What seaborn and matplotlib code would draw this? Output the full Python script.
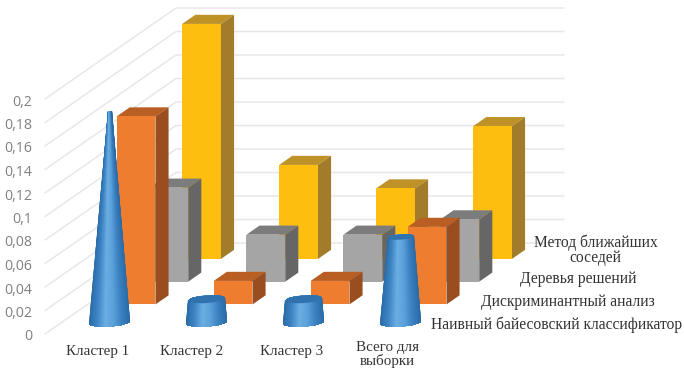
import numpy as np
import pandas as pd
import matplotlib
matplotlib.use("Agg")
import matplotlib.pyplot as plt
from matplotlib.colors import LinearSegmentedColormap
from matplotlib.path import Path
from matplotlib.transforms import ScaledTranslation
import seaborn as sns

# Values
categories = ["Кластер 1", "Кластер 2", "Кластер 3", "Всего для\nвыборки"]
series_names = ["Наивный байесовский классификатор", "Дискриминантный анализ",
                "Деревья решений", "Метод ближайших\nсоседей"]
naive_bayes = [0.18, 0.02, 0.02, 0.073]
discriminant = [0.16, 0.02, 0.02, 0.066]
decision_trees = [0.08, 0.04, 0.04, 0.053]
nearest_neighbours = [0.2, 0.08, 0.06, 0.113]
value_ticks = [0, 0.02, 0.04, 0.06, 0.08, 0.1, 0.12, 0.14, 0.16, 0.18, 0.2]

table = pd.DataFrame(
    {series_names[0]: naive_bayes, series_names[1]: discriminant,
     series_names[2]: decision_trees, series_names[3]: nearest_neighbours},
    index=categories)

sns.set_theme(style="white")

W, H = 684, 369
fig = plt.figure(figsize=(W / 100, H / 100), dpi=100)
# The axes span the front plane of the 3D box: x in categories, y in value units.
ax = fig.add_axes([45 / W, (H - 334) / H, 388 / W, 235 / H])
ax.patch.set_alpha(0)

# Oblique projection: going from front (d=0) to back (d=1) shifts the point
# right and up by a fixed amount of axis units.
SHEAR_X = 131 / 97
SHEAR_Y = 91 / 1175
BAR_WIDTH = 0.4
BAR_DEPTH = 0.1
MAX_VALUE = 0.2


def project(x, d, v):
    return x + SHEAR_X * d, v + SHEAR_Y * d


def draw_box(cat, series, value, colors, z):
    front, top, side = colors
    x0, x1 = cat + 0.5 - BAR_WIDTH / 2, cat + 0.5 + BAR_WIDTH / 2
    d0 = (series + 0.5) / 4 - BAR_DEPTH / 2
    d1 = d0 + BAR_DEPTH
    faces = [
        ([(x0, d0, value), (x1, d0, value), (x1, d1, value), (x0, d1, value)], top),
        ([(x1, d0, 0), (x1, d1, 0), (x1, d1, value), (x1, d0, value)], side),
        ([(x0, d0, 0), (x1, d0, 0), (x1, d0, value), (x0, d0, value)], front),
    ]
    for face, color in faces:
        xs, ys = zip(*[project(*p) for p in face])
        ax.fill(xs, ys, color=color, lw=0, clip_on=False, zorder=z)


def convex_hull(points):
    pts = sorted(set(map(tuple, points)))

    def half(seq):
        out = []
        for p in seq:
            while len(out) > 1 and ((out[-1][0] - out[-2][0]) * (p[1] - out[-2][1])
                                    - (out[-1][1] - out[-2][1]) * (p[0] - out[-2][0])) <= 0:
                out.pop()
            out.append(p)
        return out[:-1]

    return half(pts) + half(pts[::-1])


cone_cmap = LinearSegmentedColormap.from_list(
    "cone", ["#2a6ba6", "#3f86c6", "#6cafe4", "#5aa0da", "#3a80c0", "#2a6ba6"])


def ellipse(cat, series, height):
    t = np.linspace(0, 2 * np.pi, 90, endpoint=False)
    scale = 1 - height / MAX_VALUE
    d = (series + 0.5) / 4 + BAR_DEPTH / 2 * scale * np.sin(t)
    x = cat + 0.5 + BAR_WIDTH / 2 * scale * np.cos(t)
    return project(x, d, height)


def draw_cone(cat, series, value, top_color, z):
    bx, by = ellipse(cat, series, 0)
    tx, ty = ellipse(cat, series, value)
    hull = convex_hull(np.column_stack([np.r_[bx, tx], np.r_[by, ty]]))
    cx, cy = project(cat + 0.5, (series + 0.5) / 4, 0)
    half_width = np.hypot(BAR_WIDTH / 2, BAR_DEPTH / 2 * SHEAR_X)
    heights = np.linspace(-0.012, value + 0.008, 30)
    across = np.linspace(-1, 1, 41)
    hh, uu = np.meshgrid(heights, across, indexing="ij")
    scale = 1 - np.clip(hh, 0, value) / MAX_VALUE
    mesh = ax.pcolormesh(cx + half_width * scale * uu * 1.03, cy + hh, uu,
                         shading="gouraud", cmap=cone_cmap, zorder=z)
    mesh.set_clip_path(Path(hull + [hull[0]]), ax.transData)
    # The cap of a nearly pointed cone is too small to show its own shade
    if 1 - value / MAX_VALUE > 0.2:
        ax.fill(tx, ty, color=top_color, lw=0, clip_on=False, zorder=z + 0.5)


# Back wall and side wall gridlines
for v in value_ticks:
    xs, ys = zip(project(0, 0, v), project(0, 1, v), project(4, 1, v))
    ax.plot(xs, ys, color="#e8e8e8", lw=1.1, clip_on=False, zorder=0)

box_colors = {
    3: ("#fdbe10", "#bf9228", "#a27c2a"),
    2: ("#a5a5a5", "#7c7c7c", "#666666"),
    1: ("#ee7d30", "#b95f24", "#9a4e20"),
}

# Painter's order: back series first, left to right inside a series
z = 1
for s in (3, 2, 1):
    for c, val in enumerate(table[series_names[s]]):
        draw_box(c, s, val, box_colors[s], z)
        z += 1
for c, val in enumerate(table[series_names[0]]):
    draw_cone(c, 0, val, "#2f72ad", z)
    z += 1

# Axes and their labels
ax.set_xlim(0, 4)
ax.set_ylim(0, MAX_VALUE)
sns.despine(ax=ax, left=True, bottom=True)
ax.set_yticks(value_ticks, [f"{v:g}".replace(".", ",") for v in value_ticks],
              family="Open Sans", fontsize=10.2, color="#808080")
ax.tick_params(axis="y", length=0, pad=9.2)
for label in ax.get_yticklabels():
    label.set_transform(label.get_transform()
                        + ScaledTranslation(0, -1 / 100, fig.dpi_scale_trans))
ax.set_xticks(np.arange(4) + 0.5, categories, family="Liberation Serif",
              fontsize=10.8, color="#333333", linespacing=1.0)
ax.tick_params(axis="x", length=0, pad=8)
label_nudges = [(4, 0), (1, 0), (4, 0), (3, 4)]
for label, (nx, ny) in zip(ax.get_xticklabels(), label_nudges):
    label.set_transform(label.get_transform()
                        + ScaledTranslation(nx / 100, ny / 100, fig.dpi_scale_trans))

# Depth axis labels sit beside the right edge of the floor
series_nudges = [(-18, -2), (-1, -2), (5, -2), (-14, 4)]
for s, name in enumerate(series_names):
    ax.annotate(name, xy=project(4, (s + 0.5) / 4, 0), xytext=(series_nudges[s][0] * 0.72,
                series_nudges[s][1] * 0.72), textcoords="offset points", ha="left",
                va="center", multialignment="center", family="Liberation Serif",
                fontsize=11.2, color="#333333", linespacing=0.95,
                annotation_clip=False, zorder=z + 1)

fig.savefig("out.png", dpi=100)
